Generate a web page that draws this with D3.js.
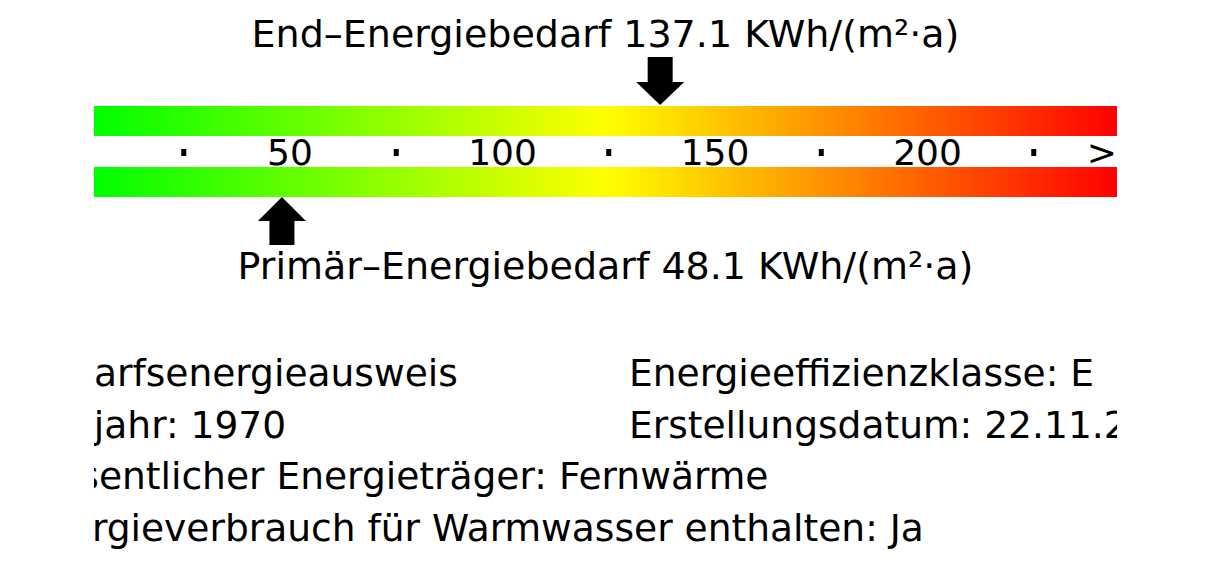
<!DOCTYPE html>
<html>
<head>
<meta charset="utf-8">
<script src="https://cdn.jsdelivr.net/npm/d3@7"></script>
<style>
  html, body { margin: 0; padding: 0; background: #fff; }
  svg { display: block; }
  text { font-family: "DejaVu Sans", sans-serif; fill: #000; }
</style>
</head>
<body>
<svg id="chart" width="1213" height="576"></svg>
<script>
// ---- data ----
const scaleDomain = [0, 250];
const endEnergy = 137.1;
const primaryEnergy = 48.1;
const tickValues = [50, 100, 150, 200];
const dotValues = [25, 75, 125, 175, 225];
const overflowLabel = { value: 241, text: ">" };
const unit = "KWh/(m²·a)";
const endLabel = "End–Energiebedarf";
const primaryLabel = "Primär–Energiebedarf";
const gradientColors = ["#00ff00", "#ffff00", "#ff0000"];
const leftLines = [
  "Bedarfsenergieausweis",
  "Baujahr: 1970",
  "Wesentlicher Energieträger: Fernwärme",
  "Energieverbrauch für Warmwasser enthalten: Ja"
];
const rightLines = [
  "Energieeffizienzklasse: E",
  "Erstellungsdatum: 22.11.2"
];

// ---- layout ----
const W = 1213, H = 576;
const clipL = 94, clipR = 1117;
const svg = d3.select("#chart");
const x = d3.scaleLinear().domain(scaleDomain).range([77.5, 77.5 + 1062.5]);

const defs = svg.append("defs");
const grad = defs.append("linearGradient").attr("id", "g")
  .attr("gradientUnits", "userSpaceOnUse")
  .attr("x1", clipL).attr("x2", clipR).attr("y1", 0).attr("y2", 0);
grad.selectAll("stop").data(gradientColors).join("stop")
  .attr("offset", (d, i) => i / (gradientColors.length - 1))
  .attr("stop-color", d => d);
defs.append("clipPath").attr("id", "clip")
  .append("rect").attr("x", clipL).attr("y", 0).attr("width", clipR - clipL).attr("height", H);

const cx = (clipL + clipR) / 2;

// Title top
svg.append("text").attr("x", cx).attr("y", 47).attr("text-anchor", "middle")
  .style("font-size", "38px").text(`${endLabel} ${endEnergy} ${unit}`);

// bars
const bars = svg.append("g").attr("clip-path", "url(#clip)");
[[106, 30], [167, 30]].forEach(([y, h]) => {
  bars.append("rect").attr("x", x(scaleDomain[0])).attr("y", y)
    .attr("width", x(scaleDomain[1]) - x(scaleDomain[0])).attr("height", h)
    .attr("fill", "url(#g)");
});

// dots
bars.selectAll("rect.dot").data(dotValues).join("rect").attr("class", "dot")
  .attr("x", d => x(d) - 2.5).attr("y", 149).attr("width", 5).attr("height", 7).attr("fill", "#000");

// tick labels
bars.selectAll("text.tick").data(tickValues).join("text").attr("class", "tick")
  .attr("x", d => x(d)).attr("y", 165).attr("text-anchor", "middle")
  .style("font-size", "36px").text(d => d);
bars.append("text").attr("x", x(overflowLabel.value)).attr("y", 165).attr("text-anchor", "middle")
  .style("font-size", "36px").text(overflowLabel.text);

// down arrow (End)
const xe = x(endEnergy);
svg.append("path").attr("fill", "#000").attr("d",
  `M${xe - 12.5},57 H${xe + 12.5} V82 H${xe + 24} L${xe},105 L${xe - 24},82 H${xe - 12.5} Z`);

// up arrow (Primär)
const xp = x(primaryEnergy);
svg.append("path").attr("fill", "#000").attr("d",
  `M${xp},197 L${xp + 24},221 H${xp + 12.5} V245 H${xp - 12.5} V221 H${xp - 24} Z`);

// Title bottom
svg.append("text").attr("x", cx).attr("y", 279).attr("text-anchor", "middle")
  .style("font-size", "38px").text(`${primaryLabel} ${primaryEnergy} ${unit}`);

// bottom info text
const fs = "37.6px";
const info = svg.append("g").attr("clip-path", "url(#clip)");
const probe = svg.append("text").style("font-size", fs).text("Bed");
const prefixW = probe.node().getComputedTextLength();
probe.remove();
const leftX = clipL - prefixW;
info.selectAll("text.l").data(leftLines).join("text").attr("class", "l")
  .attr("x", leftX).attr("y", (d, i) => 386 + i * 51.5)
  .style("font-size", fs).text(d => d);
info.selectAll("text.r").data(rightLines).join("text").attr("class", "r")
  .attr("x", 629).attr("y", (d, i) => 386 + i * 51.5)
  .style("font-size", fs).text(d => d);
</script>
</body>
</html>
